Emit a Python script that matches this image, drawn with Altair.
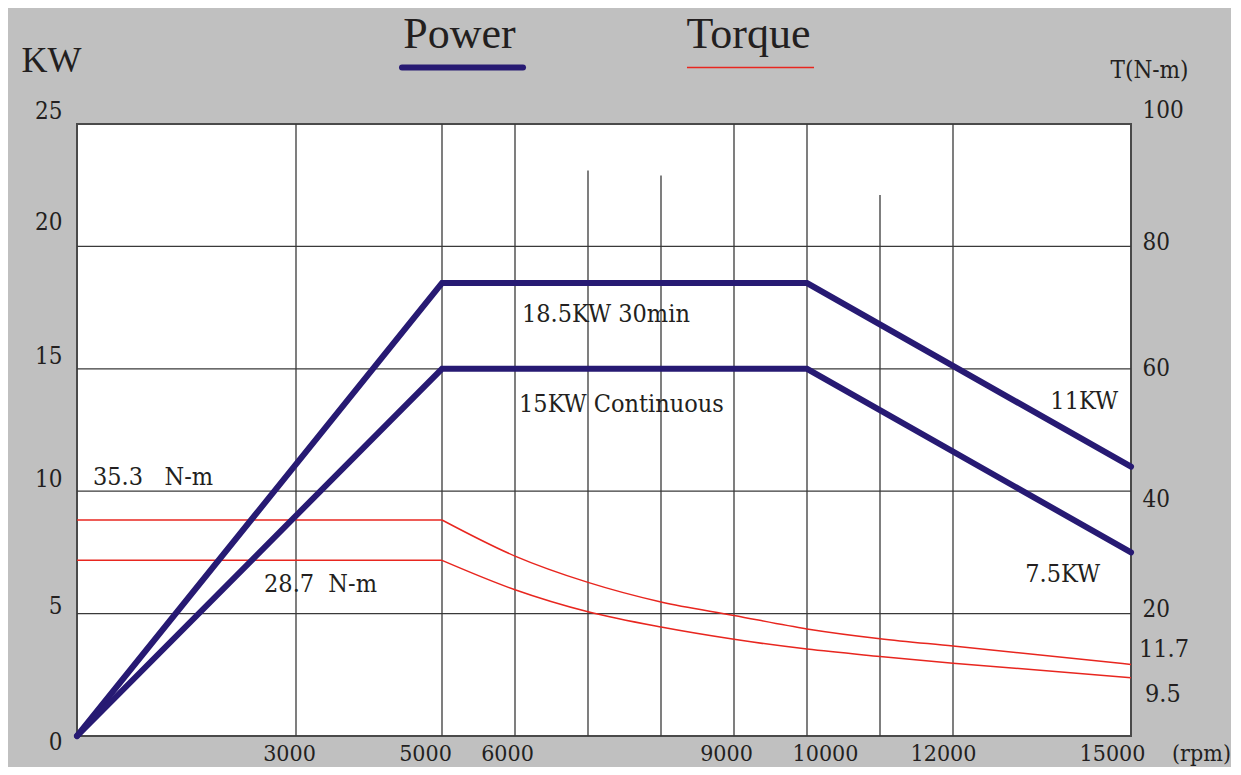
import altair as alt
import pandas as pd

# ---------------- data ----------------
power_rpm = [0, 5000, 10000, 15000]
power_30min_kw = [0, 18.5, 18.5, 11]
power_cont_kw = [0, 15, 15, 7.5]

torque_flat_rpm = [0, 5000]
torque_30min_flat = [35.3, 35.3]
torque_cont_flat = [28.7, 28.7]

torque_curve_rpm = [5000, 6000, 7000, 8000, 9000, 10000, 11000, 12000, 15000]
torque_30min_curve = [35.3, 29.4, 25.1, 21.9, 19.7, 17.5, 15.9, 14.7, 11.7]
torque_cont_curve = [28.7, 23.9, 20.3, 17.8, 15.8, 14.2, 13.0, 11.9, 9.5]

grid_kw = [5, 10, 15, 20]
grid_rpm_full = [3000, 5000, 6000, 9000, 10000, 12000]
grid_rpm_short = [7000, 8000, 11000]
grid_short_top_kw = [23.1, 22.9, 22.1]

rpm_ticks = [3000, 5000, 6000, 9000, 10000, 12000, 15000]
kw_ticks = [0, 5, 10, 15, 20, 25]
torque_ticks = [20, 40, 60, 80, 100]

notes_left_text = ["18.5KW 30min", "15KW Continuous", "35.3\u00a0\u00a0\u00a0N-m",
                   "28.7\u00a0\u00a0N-m", "11.7", "9.5"]
notes_left_rpm = [6096, 6055, 219, 2562, 15135, 15236]
notes_left_kw = [16.91, 13.24, 10.25, 5.88, 3.23, 1.39]
notes_right_text = ["11KW", "7.5KW"]
notes_right_rpm = [14781, 14478]
notes_right_kw = [13.36, 6.29]

legend_names = ["Power", "Torque"]
legend_text_rpm = [5240, 9199]
legend_text_kw = [28.1, 28.1]
legend_line_start = [4452, 8356]
legend_line_end = [6110, 10096]
legend_line_kw = [27.31, 27.31]

# ---------------- tables ----------------
power_df = pd.DataFrame({
    "rpm": power_rpm * 2,
    "kw": power_30min_kw + power_cont_kw,
    "series": ["30min"] * len(power_rpm) + ["cont"] * len(power_rpm),
})
torque_flat_df = pd.DataFrame({
    "rpm": torque_flat_rpm * 2,
    "t": torque_30min_flat + torque_cont_flat,
    "series": ["30min"] * 2 + ["cont"] * 2,
})
torque_curve_df = pd.DataFrame({
    "rpm": torque_curve_rpm * 2,
    "t": torque_30min_curve + torque_cont_curve,
    "series": ["30min"] * len(torque_curve_rpm) + ["cont"] * len(torque_curve_rpm),
})
grid_h_df = pd.DataFrame({"kw": grid_kw})
grid_v_df = pd.DataFrame({"rpm": grid_rpm_full})
grid_vs_df = pd.DataFrame({"rpm": grid_rpm_short, "top": grid_short_top_kw})
notes_l_df = pd.DataFrame({"rpm": notes_left_rpm, "kw": notes_left_kw, "txt": notes_left_text})
notes_r_df = pd.DataFrame({"rpm": notes_right_rpm, "kw": notes_right_kw, "txt": notes_right_text})
leg_txt_df = pd.DataFrame({"rpm": legend_text_rpm, "kw": legend_text_kw, "txt": legend_names})
leg_line_df = pd.DataFrame({"a": legend_line_start, "b": legend_line_end, "kw": legend_line_kw,
                            "name": legend_names})

# ---------------- styling ----------------
NAVY = "#271a73"
RED = "#e8261f"
GRID = "#3a3a3a"
INK = "#231f20"
NUMF = "DejaVu Serif Condensed"
TIMES = "Liberation Serif"

x_scale = alt.Scale(domain=[0, 12000, 15000], range=[0, 876, 1054], nice=False, zero=False)
kw_scale = alt.Scale(domain=[0, 25], nice=False, zero=True)
t_scale = alt.Scale(domain=[0, 100], nice=False, zero=True)

x_axis = alt.Axis(
    orient="bottom", values=rpm_ticks, format="d", ticks=False, tickSize=0, domain=False,
    grid=False, labelFont=NUMF, labelFontSize=23, labelColor=INK, labelBaseline="middle",
    labelPadding=17, labelFlush=False, labelOverlap=False,
    labelOffset={"condition": [
        {"test": "datum.value === 3000", "value": -7},
        {"test": "datum.value === 5000", "value": -17},
        {"test": "datum.value === 10000", "value": 18},
        {"test": "datum.value === 12000", "value": -10},
        {"test": "datum.value === 15000", "value": -19},
    ], "value": -8},
    title="(rpm)", titleX=1124, titleY=17, titleBaseline="middle", titleAlign="center",
    titleFont=NUMF, titleFontSize=23, titleFontWeight="normal", titleColor=INK,
)
kw_axis = alt.Axis(
    orient="left", values=kw_ticks, format="d", ticks=False, tickSize=0, domain=False,
    grid=False, labelFont=NUMF, labelFontSize=24, labelColor=INK, labelBaseline="middle",
    labelAlign="right", labelPadding=15, labelFlush=False, labelOverlap=False,
    labelOffset={"condition": [
        {"test": "datum.value === 0", "value": 6},
        {"test": "datum.value === 5", "value": -7},
        {"test": "datum.value === 20", "value": -24},
        {"test": "datum.value === 25", "value": -13},
    ], "value": -12},
    title="KW", titleX=-26, titleY=-64, titleAngle=0, titleBaseline="middle",
    titleAlign="center", titleFont=TIMES, titleFontSize=36, titleFontWeight="normal",
    titleColor=INK,
)
t_axis = alt.Axis(
    orient="right", values=torque_ticks, format="d", ticks=False, tickSize=0, domain=False,
    grid=False, labelFont=NUMF, labelFontSize=24, labelColor=INK, labelBaseline="middle",
    labelAlign="left", labelPadding=11, labelFlush=False, labelOverlap=False,
    labelOffset={"condition": [
        {"test": "datum.value === 100", "value": -14},
        {"test": "datum.value === 80", "value": -4},
        {"test": "datum.value === 40", "value": 8},
        {"test": "datum.value === 20", "value": -4},
    ], "value": 0},
    title="T(N-m)", titleX=18, titleY=-54, titleAngle=0, titleBaseline="middle",
    titleAlign="center", titleFont=NUMF, titleFontSize=24, titleFontWeight="normal",
    titleColor=INK,
)


def X(f):
    return alt.X(f, scale=x_scale, axis=x_axis)


# ---------------- group 1: grid (kW scale, left + bottom axes) ----------------
grid_h = alt.Chart(grid_h_df).mark_rule(color=GRID, strokeWidth=1.3).encode(
    y=alt.Y("kw:Q", scale=kw_scale, axis=kw_axis)
)
grid_v = alt.Chart(grid_v_df).mark_rule(color=GRID, strokeWidth=1.3).encode(
    x=X("rpm:Q")
)
grid_vs = alt.Chart(grid_vs_df).mark_rule(color=GRID, strokeWidth=1.3).encode(
    x=X("rpm:Q"),
    y=alt.Y("top:Q", scale=kw_scale, axis=kw_axis),
    y2=alt.datum(0),
)
g1 = alt.layer(grid_h, grid_v, grid_vs)

# ---------------- group 2: torque (right axis) ----------------
t_flat = alt.Chart(torque_flat_df).mark_line(color=RED, strokeWidth=1.5).encode(
    x=X("rpm:Q"),
    y=alt.Y("t:Q", scale=t_scale, axis=t_axis),
    detail="series:N",
)
t_curve = alt.Chart(torque_curve_df).mark_line(color=RED, strokeWidth=1.5,
                                               interpolate="monotone").encode(
    x=X("rpm:Q"),
    y=alt.Y("t:Q", scale=t_scale, axis=t_axis),
    detail="series:N",
)
g2 = alt.layer(t_flat, t_curve)

# ---------------- group 3: power lines, notes, legend ----------------
def Y(f):
    return alt.Y(f, scale=kw_scale, axis=None)

power = alt.Chart(power_df).mark_line(color=NAVY, strokeWidth=6, strokeCap="round").encode(
    x=X("rpm:Q"), y=Y("kw:Q"), detail="series:N"
)
notes_l = alt.Chart(notes_l_df).mark_text(
    align="left", baseline="alphabetic", font=NUMF, fontSize=25, color=INK
).encode(x=X("rpm:Q"), y=Y("kw:Q"), text="txt:N")
notes_r = alt.Chart(notes_r_df).mark_text(
    align="right", baseline="alphabetic", font=NUMF, fontSize=25, color=INK
).encode(x=X("rpm:Q"), y=Y("kw:Q"), text="txt:N")
leg_txt = alt.Chart(leg_txt_df).mark_text(
    align="center", baseline="alphabetic", font=TIMES, fontSize=44, color=INK
).encode(x=X("rpm:Q"), y=Y("kw:Q"), text="txt:N")
leg_power = alt.Chart(leg_line_df).transform_filter("datum.name == 'Power'").mark_rule(
    color=NAVY, strokeWidth=6, strokeCap="round"
).encode(x=X("a:Q"), x2="b:Q", y=Y("kw:Q"))
leg_torque = alt.Chart(leg_line_df).transform_filter("datum.name == 'Torque'").mark_rule(
    color=RED, strokeWidth=1.5
).encode(x=X("a:Q"), x2="b:Q", y=Y("kw:Q"))
g3 = alt.layer(power, notes_l, notes_r, leg_txt, leg_power, leg_torque)

chart = alt.layer(g1, g2, g3).resolve_scale(y="independent").properties(
    width=1054, height=612,
    autosize=alt.AutoSizeParams(type="none"),
    padding={"left": 69, "top": 116, "right": 100, "bottom": 31},
    background="#c0c0c0",
).configure_view(
    fill="white", stroke="#4a4a4a", strokeWidth=2
)

chart.save("out.html", embed_options={"renderer": "svg", "actions": False})
